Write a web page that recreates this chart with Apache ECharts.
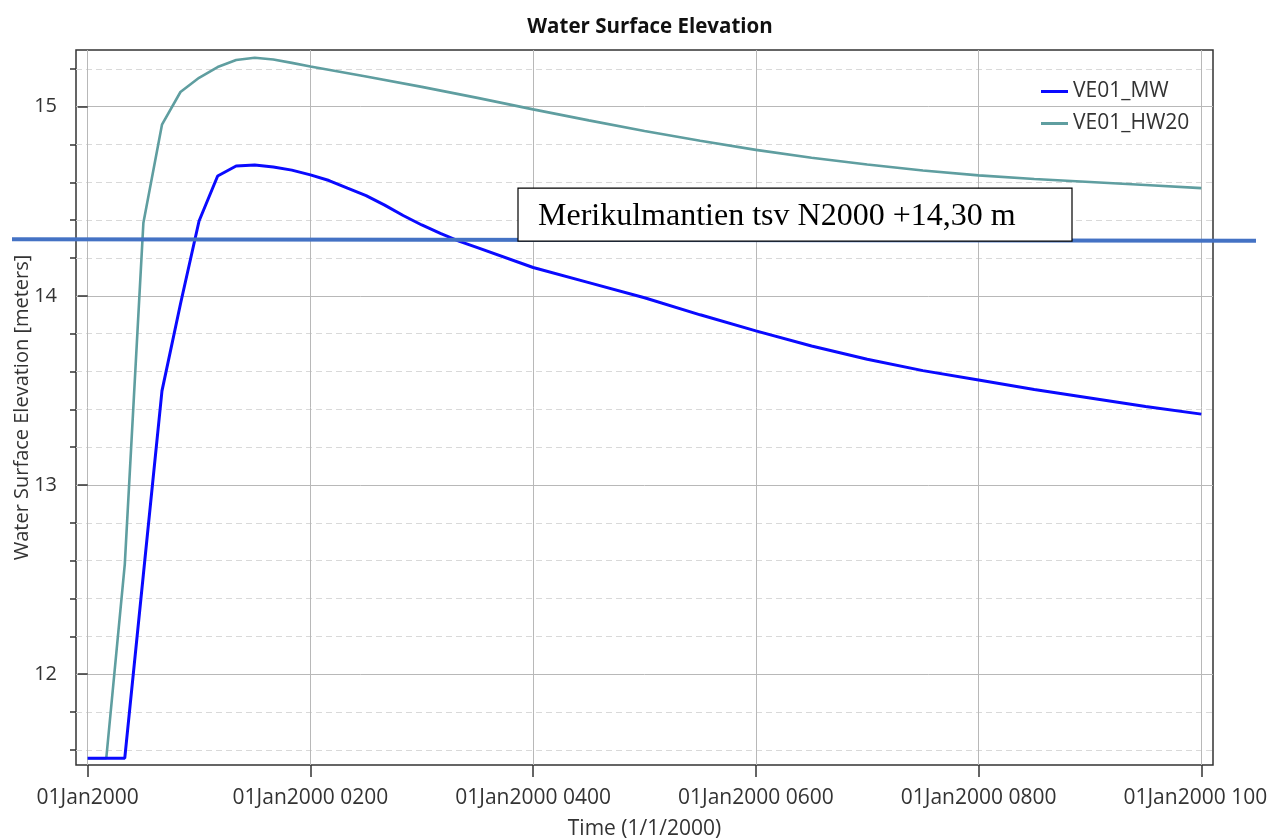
<!DOCTYPE html>
<html>
<head>
<meta charset="utf-8">
<title>Water Surface Elevation</title>
<script src="https://cdn.jsdelivr.net/npm/echarts@6/dist/echarts.min.js"></script>
<style>
  html, body { margin: 0; padding: 0; background: #ffffff; }
  #chart { width: 1268px; height: 840px; }
</style>
</head>
<body>
<div id="chart"></div>
<script>
// Hours after 01Jan2000 0000 and water surface elevation (m) for each run
const hoursMW = [0, 0.333, 0.5, 0.667, 0.833, 1.0, 1.167, 1.333, 1.5, 1.667, 1.833, 2.0, 2.167, 2.333, 2.5, 2.667, 2.833, 3.0, 3.167, 3.333, 3.5, 4.0, 4.5, 5.0, 5.5, 6.0, 6.5, 7.0, 7.5, 8.0, 8.5, 9.0, 9.5, 10.0];
const elevMW = [11.556, 11.556, 12.527, 13.498, 13.957, 14.396, 14.634, 14.687, 14.692, 14.681, 14.665, 14.64, 14.61, 14.57, 14.53, 14.48, 14.425, 14.375, 14.33, 14.29, 14.255, 14.15, 14.07, 13.99, 13.90, 13.815, 13.735, 13.665, 13.605, 13.555, 13.505, 13.46, 13.415, 13.375];

const hoursHW20 = [0, 0.167, 0.333, 0.5, 0.667, 0.833, 1.0, 1.167, 1.333, 1.5, 1.667, 1.833, 2.0, 2.5, 3.0, 3.5, 4.0, 4.5, 5.0, 5.5, 6.0, 6.5, 7.0, 7.5, 8.0, 8.5, 9.0, 9.5, 10.0];
const elevHW20 = [11.556, 11.556, 12.58, 14.385, 14.905, 15.078, 15.153, 15.21, 15.247, 15.259, 15.25, 15.232, 15.213, 15.16, 15.105, 15.047, 14.986, 14.928, 14.872, 14.82, 14.772, 14.73, 14.695, 14.663, 14.637, 14.618, 14.602, 14.586, 14.57];

// Axis ticks
const xTickHours = [0, 2, 4, 6, 8, 10];
const yMajorTicks = [12, 13, 14, 15];
const yMinorTicks = [11.6, 11.8, 12.2, 12.4, 12.6, 12.8, 13.2, 13.4, 13.6, 13.8, 14.2, 14.4, 14.6, 14.8, 15.2];

// Reference level
const thresholdLevel = 14.30;
const thresholdLabel = 'Merikulmantien tsv N2000 +14,30 m';

const seriesNames = ['VE01_MW', 'VE01_HW20'];

const uiFont = '"Open Sans", "Noto Sans", sans-serif';

function pairs(xs, ys) {
  return xs.map((x, i) => [x, ys[i]]);
}

function timeLabel(h) {
  if (h === 0) return '01Jan2000';
  const hh = String(Math.round(h * 100)).padStart(4, '0');
  return '01Jan2000 ' + hh;
}

const chart = echarts.init(document.getElementById('chart'), null, { renderer: 'canvas' });

const xMin = -0.105, xMax = 10.105;
const yMin = 11.52, yMax = 15.3;

chart.setOption({
  animation: false,
  backgroundColor: '#ffffff',
  title: {
    text: 'Water Surface Elevation',
    left: 645,
    top: 12,
    textAlign: 'center',
    textStyle: { fontFamily: uiFont, fontWeight: 'bold', fontSize: 20.5, color: '#111' }
  },
  legend: {
    orient: 'vertical',
    left: 1036,
    top: 76,
    icon: 'rect',
    itemWidth: 27,
    itemHeight: 3,
    itemGap: 11,
    textStyle: { fontFamily: uiFont, fontSize: 21, color: '#333' },
    data: seriesNames
  },
  grid: {
    left: 76, right: 55, top: 50, bottom: 75,
    outerBoundsMode: 'none',
    containLabel: false,
    show: true,
    borderColor: '#333',
    borderWidth: 1.5,
    backgroundColor: 'transparent'
  },
  xAxis: {
    type: 'value',
    min: xMin, max: xMax,
    name: 'Time (1/1/2000)',
    nameLocation: 'middle',
    nameGap: 54,
    nameTextStyle: { fontFamily: uiFont, fontSize: 21, color: '#333' },
    axisLine: { show: false },
    axisTick: { show: true, length: 12, customValues: xTickHours, lineStyle: { color: '#333', width: 1.5 } },
    axisLabel: {
      customValues: xTickHours,
      formatter: timeLabel,
      margin: 23,
      hideOverlap: false,
      fontFamily: uiFont, fontSize: 21, color: '#333'
    },
    splitLine: { show: true, lineStyle: { color: '#b8b8b8', width: 1 } }
  },
  yAxis: [
    {
      type: 'value',
      min: yMin, max: yMax,
      position: 'left',
      name: 'Water Surface Elevation [meters]',
      nameLocation: 'middle',
      nameGap: 44,
      nameRotate: 90,
      nameMoveOverlap: false,
      nameTextStyle: { fontFamily: uiFont, fontSize: 20, color: '#333' },
      axisLine: { show: false },
      axisTick: { show: true, length: 10, customValues: yMajorTicks, lineStyle: { color: '#333', width: 1.5 } },
      axisLabel: { customValues: yMajorTicks, margin: 19, fontFamily: uiFont, fontSize: 20, color: '#333' },
      splitLine: { show: true, lineStyle: { color: '#b8b8b8', width: 1 } }
    },
    {
      type: 'value',
      min: yMin, max: yMax,
      position: 'left',
      axisLine: { show: false },
      axisTick: { show: true, length: 6, customValues: yMinorTicks, lineStyle: { color: '#333', width: 1.5 } },
      axisLabel: { show: false, customValues: yMinorTicks },
      splitLine: { show: true, lineStyle: { color: '#d9d9d9', width: 1, type: [6, 4] } }
    }
  ],
  series: [
    {
      name: seriesNames[0],
      type: 'line',
      yAxisIndex: 0,
      data: pairs(hoursMW, elevMW),
      symbol: 'none',
      lineStyle: { color: '#0a0aff', width: 3 },
      itemStyle: { color: '#0a0aff' },
      z: 3
    },
    {
      name: seriesNames[1],
      type: 'line',
      yAxisIndex: 0,
      data: pairs(hoursHW20, elevHW20),
      symbol: 'none',
      lineStyle: { color: '#5f9ea0', width: 2.6 },
      itemStyle: { color: '#5f9ea0' },
      z: 2
    }
  ]
});

// Reference level line across the figure with its label box
const levelY = chart.convertToPixel({ yAxisIndex: 0 }, thresholdLevel);
chart.setOption({
  graphic: [
    {
      type: 'line',
      z: 100,
      shape: { x1: 12, y1: levelY, x2: 1256, y2: levelY + 1.5 },
      style: { stroke: '#4472c4', lineWidth: 4 }
    },
    {
      type: 'rect',
      z: 101,
      shape: { x: 518, y: levelY - 51, width: 554, height: 53 },
      style: { fill: '#ffffff', stroke: '#000000', lineWidth: 1.2 }
    },
    {
      type: 'text',
      z: 102,
      x: 538,
      y: levelY - 23,
      style: {
        text: thresholdLabel,
        font: '32px "Liberation Serif", "Times New Roman", serif',
        fill: '#000000',
        verticalAlign: 'middle'
      }
    }
  ]
});
</script>
</body>
</html>
